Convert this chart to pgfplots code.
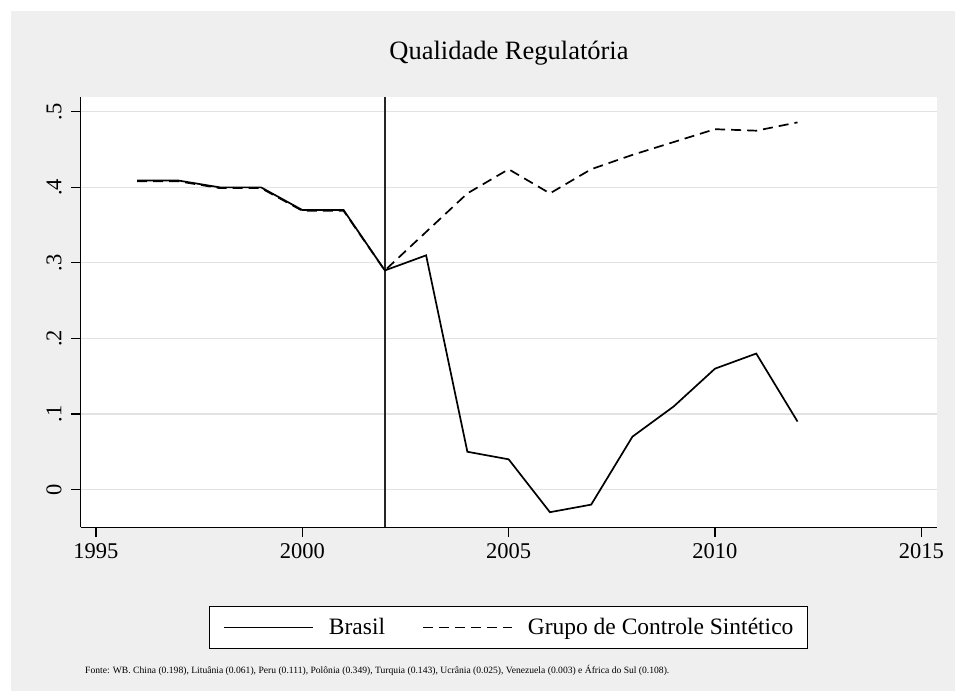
\documentclass[border=0pt]{standalone}
\usepackage{pgfplots}
\pgfplotsset{compat=1.18}
\usepackage{fontspec}
\setmainfont{Liberation Serif}
\definecolor{bggray}{RGB}{239,239,239}
\definecolor{gridgray}{RGB}{226,226,226}
\begin{document}
\begin{tikzpicture}
\useasboundingbox (0pt,0pt) rectangle (955pt,691pt);
\fill[white] (0pt,0pt) rectangle (955pt,691pt);
\fill[bggray] (11pt,0pt) rectangle (955pt,680pt);
\node[anchor=base, font=\fontsize{26.5}{30}\selectfont, inner sep=0pt] at (509pt,631pt) {Qualidade Regulatória};
\begin{axis}[
    at={(80.7pt,163.7pt)}, anchor=south west,
    scale only axis, width=856.3pt, height=430.6pt,
    xmin=1994.63, xmax=2015.38,
    ymin=-0.05, ymax=0.52,
    axis background/.style={fill=white},
    axis x line*=bottom, axis y line*=left,
    axis line style={line width=1.1pt, -},
    xtick={1995,2000,2005,2010,2015},
    ytick={0,0.1,0.2,0.3,0.4,0.5},
    yticklabels={0,.1,.2,.3,.4,.5},
    tick align=outside, major tick length=9.5pt,
    tick style={line width=1.1pt, black},
    ymajorgrids, grid style={gridgray, line width=1.2pt},
    /pgf/number format/assume math mode=true,
    /pgf/number format/1000 sep={},
    ticklabel style={font=\fontsize{22.5}{26}\selectfont, inner sep=0pt},
    yticklabel style={rotate=90, anchor=south},
    yticklabel shift=9.3pt,
    xticklabel shift=7pt,
    legend columns=2,
    legend image code/.code={\draw[#1] (0pt,0pt) -- (89pt,0pt);},
    legend style={at={(0.4994,-0.2327)}, anchor=center,
        draw=black, line width=1.1pt, fill=white,
        font=\fontsize{23.5}{27}\selectfont,
        inner xsep=14pt, inner ysep=12pt,
        column sep=15pt,
        nodes={inner sep=0pt},
        /tikz/every even column/.append style={column sep=37pt}},
]
\addplot[black!85, line width=1.4pt, forget plot] coordinates {(2002,-0.05) (2002,0.52)};
\addplot[black, line width=1.7pt] coordinates {
    (1996,0.409) (1997,0.409) (1998,0.400) (1999,0.400) (2000,0.370)
    (2001,0.370) (2002,0.290) (2003,0.310) (2004,0.050) (2005,0.040)
    (2006,-0.030) (2007,-0.020) (2008,0.070) (2009,0.110) (2010,0.160)
    (2011,0.180) (2012,0.090)
};
\addlegendentry{Brasil}
\addplot[black, line width=1.7pt, dash pattern=on 10pt off 6pt] coordinates {
    (1996,0.408) (1997,0.408) (1998,0.399) (1999,0.399) (2000,0.369)
    (2001,0.369) (2002,0.290) (2003,0.341) (2004,0.392) (2005,0.424)
    (2006,0.392) (2007,0.424) (2008,0.443) (2009,0.460) (2010,0.477)
    (2011,0.475) (2012,0.486)
};
\addlegendentry{Grupo de Controle Sintético\hspace{31pt}}
\end{axis}
\node[anchor=west, font=\fontsize{9.6}{11}\selectfont, inner sep=0pt] at (85pt,21pt)
  {Fonte: WB. China (0.198), Lituânia (0.061), Peru (0.111), Polônia (0.349), Turquia (0.143), Ucrânia (0.025), Venezuela (0.003) e África do Sul (0.108).};
\end{tikzpicture}
\end{document}
